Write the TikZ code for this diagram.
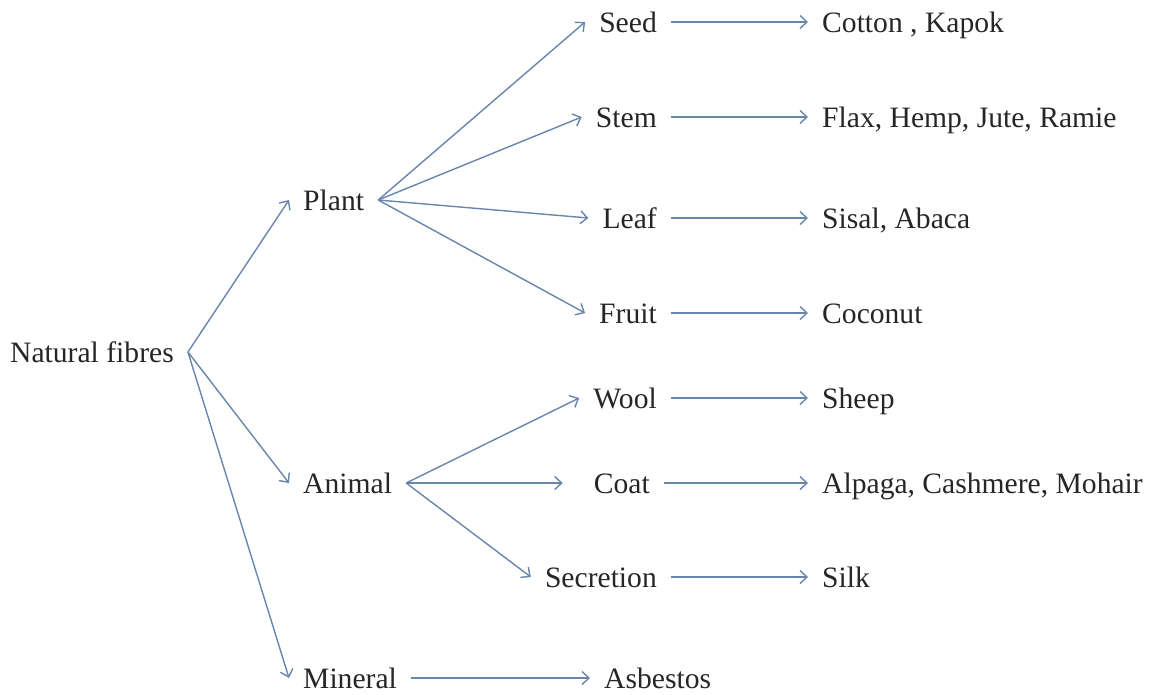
\documentclass[tikz,border=0pt]{standalone}
\usepackage{fontspec}
\setmainfont{Liberation Serif}
\usetikzlibrary{arrows.meta}
\definecolor{linkblue}{RGB}{104,134,172}

\begin{document}
\begin{tikzpicture}[
  x=1pt, y=-1pt,
  every node/.style = {font=\fontsize{29.6}{36}\selectfont, text=black!85, inner xsep=14pt, inner ysep=0pt, text height=20pt, text depth=0pt},
  link/.style = {draw=linkblue, line width=1.4pt, -{Straight Barb[length=7pt,width=13pt]}}
]
\useasboundingbox (0,0) rectangle (1151,694);

\node[anchor=west] (natural) at (-4,352) {Natural fibres};

\node[anchor=west] (plant)   at (289,200) {Plant};
\node[anchor=west] (animal)  at (289,483) {Animal};
\node[anchor=west] (mineral) at (289,678) {Mineral};

\node[anchor=east] (seed)      at (671,22)  {Seed};
\node[anchor=east] (stem)      at (671,117) {Stem};
\node[anchor=east] (leaf)      at (671,218) {Leaf};
\node[anchor=east] (fruit)     at (671,313) {Fruit};
\node[anchor=east] (wool)      at (671,398) {Wool};
\node[anchor=east] (coat)      at (664,483) {Coat};
\node[anchor=east] (secretion) at (671,577) {Secretion};
\node[anchor=west] (asbestos)  at (590,678) {Asbestos};

\node[anchor=west] (cotton)  at (808,22)  {Cotton , Kapok};
\node[anchor=west] (flax)    at (808,117) {Flax, Hemp, Jute, Ramie};
\node[anchor=west] (sisal)   at (808,218) {Sisal, Abaca};
\node[anchor=west] (coconut) at (808,313) {Coconut};
\node[anchor=west] (sheep)   at (808,398) {Sheep};
\node[anchor=west] (alpaga)  at (808,483) {Alpaga, Cashmere, Mohair};
\node[anchor=west] (silk)    at (808,577) {Silk};

\draw[link] (natural.east) -- (plant.west);
\draw[link] (natural.east) -- (animal.west);
\draw[link] (natural.east) -- (mineral.west);

\draw[link] (plant.east) -- (seed.west);
\draw[link] (plant.east) -- (stem.west);
\draw[link] (plant.east) -- (leaf.west);
\draw[link] (plant.east) -- (fruit.west);

\draw[link] (animal.east) -- (wool.west);
\draw[link, shorten >=17pt] (animal.east) -- (coat.west);
\draw[link] (animal.east) -- (secretion.west);

\draw[link] (mineral.east) -- (asbestos.west);

\draw[link] (seed.east) -- (cotton.west);
\draw[link] (stem.east) -- (flax.west);
\draw[link] (leaf.east) -- (sisal.west);
\draw[link] (fruit.east) -- (coconut.west);
\draw[link] (wool.east) -- (sheep.west);
\draw[link] (coat.east) -- (alpaga.west);
\draw[link] (secretion.east) -- (silk.west);
\end{tikzpicture}
\end{document}
